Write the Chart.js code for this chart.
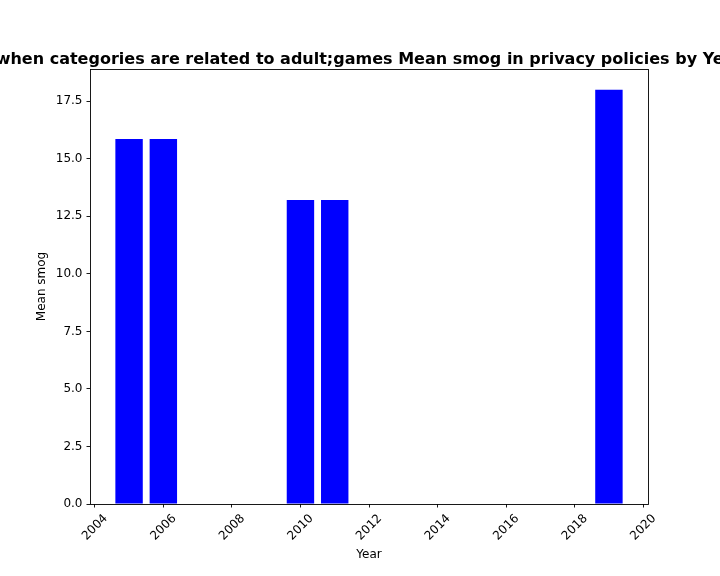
<!DOCTYPE html>
<html>
<head>
<meta charset="utf-8">
<script src="https://cdn.jsdelivr.net/npm/chart.js@4"></script>
<style>
  html, body { margin: 0; padding: 0; background: #fff; }
  #wrap { width: 720px; height: 576px; }
</style>
</head>
<body>
<div id="wrap"><canvas id="c" width="720" height="576"></canvas></div>
<script>
const chartTitle = "when categories are related to adult;games Mean smog in privacy policies by Year";
const xAxisLabel = "Year";
const yAxisLabel = "Mean smog";
const years = [2005, 2006, 2010, 2011, 2019];
const meanSmog = [15.86, 15.86, 13.21, 13.21, 18.0];
const xTickValues = [2004, 2006, 2008, 2010, 2012, 2014, 2016, 2018, 2020];
const yTickValues = [0, 2.5, 5, 7.5, 10, 12.5, 15, 17.5];

Chart.defaults.font.family = '"DejaVu Sans", sans-serif';
Chart.defaults.font.size = 12;
Chart.defaults.color = '#000';

const frameAndTitle = {
  id: 'frameAndTitle',
  afterDraw(chart) {
    const ctx = chart.ctx;
    const a = chart.chartArea;
    ctx.save();
    ctx.strokeStyle = '#000';
    ctx.lineWidth = 0.9;
    ctx.strokeRect(Math.round(a.left) + 0.5, Math.round(a.top) + 0.5,
                   Math.round(a.right) - Math.round(a.left), Math.round(a.bottom) - Math.round(a.top));
    ctx.fillStyle = '#000';
    ctx.font = 'bold 16px "DejaVu Sans"';
    ctx.textAlign = 'center';
    ctx.textBaseline = 'alphabetic';
    ctx.fillText(chartTitle, (a.left + a.right) / 2, 64);
    ctx.restore();
  }
};

new Chart(document.getElementById('c'), {
  type: 'bar',
  data: {
    datasets: [{
      data: years.map((y, i) => ({ x: y, y: meanSmog[i] })),
      backgroundColor: '#0000ff',
      borderWidth: 0,
      barPercentage: 0.8,
      categoryPercentage: 1.0
    }]
  },
  options: {
    responsive: false,
    animation: false,
    devicePixelRatio: 1,
    layout: { padding: { top: 69, right: 72, left: 0, bottom: 0 } },
    plugins: { legend: { display: false }, tooltip: { enabled: false }, title: { display: false } },
    scales: {
      x: {
        type: 'linear',
        min: 2003.86,
        max: 2020.14,
        offset: false,
        border: { display: false },
        grid: { display: true, offset: false, drawOnChartArea: false, drawTicks: true, tickLength: 3.5, color: '#000', tickColor: '#000', tickWidth: 0.9 },
        afterBuildTicks: s => { s.ticks = xTickValues.map(v => ({ value: v })); },
        afterFit: s => { s.height = 72; },
        ticks: {
          autoSkip: false,
          minRotation: 45,
          maxRotation: 45,
          labelOffset: 11,
          padding: 4,
          color: '#000',
          font: { size: 12 },
          callback: v => String(v)
        },
        title: { display: true, text: xAxisLabel, color: '#000', font: { size: 12 }, padding: { top: 14, bottom: 14 } }
      },
      y: {
        type: 'linear',
        min: 0,
        max: 18.9,
        border: { display: false },
        grid: { display: true, drawOnChartArea: false, drawTicks: true, tickLength: 3.5, color: '#000', tickColor: '#000', tickWidth: 0.9 },
        afterBuildTicks: s => { s.ticks = yTickValues.map(v => ({ value: v })); },
        afterFit: s => { s.width = 90; },
        ticks: {
          padding: 4,
          color: '#000',
          font: { size: 12 },
          callback: v => Number(v).toFixed(1)
        },
        title: { display: true, text: yAxisLabel, color: '#000', font: { size: 12 }, padding: { top: 35, bottom: 35 } }
      }
    }
  },
  plugins: [frameAndTitle]
});
</script>
</body>
</html>
